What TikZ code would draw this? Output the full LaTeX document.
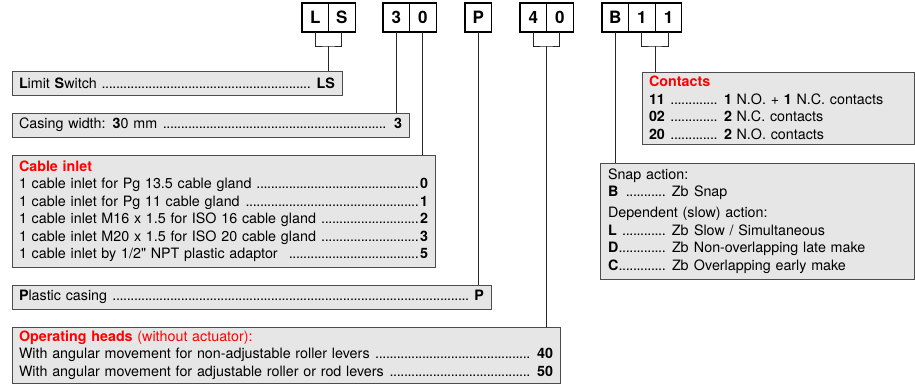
\documentclass[tikz,border=0pt]{standalone}
\usepackage{fontspec}
\setmainfont{TeX Gyre Heros}
\usetikzlibrary{positioning}
\definecolor{panelgray}{HTML}{E6E6E6}
\definecolor{headred}{HTML}{FF0000}
\newcommand{\dotlead}{\leaders\hbox to 3.6pt{\hss.\hss}\hskip 0pt plus 1filll}
\newcommand{\redhead}[1]{{\color{headred}\bfseries #1}}
\begin{document}
\begin{tikzpicture}[x=1pt, y=-1pt,
    codecell/.style={rectangle, draw, line width=1.2pt, minimum width=26.6pt, minimum height=29pt, inner sep=0pt, outer sep=0pt, font=\fontsize{17}{17}\selectfont\bfseries},
    infobox/.style={rectangle, draw=black!70, line width=1pt, fill=panelgray, anchor=north west, inner xsep=7pt, inner ysep=0pt, outer sep=0pt, align=left, font=\fontsize{14.3}{17.5}\selectfont},
    link/.style={draw=black!85, line width=0.9pt}
]
    \useasboundingbox (0,0) rectangle (915,384);

    \node[codecell, anchor=north west] (cL) at (302,3) {L};
    \node[codecell, right=0pt of cL] (cS) {S};
    \node[codecell, anchor=north west] (c3) at (383,3) {3};
    \node[codecell, right=0pt of c3] (c0) {0};
    \node[codecell, anchor=north west] (cP) at (465,3) {P};
    \node[codecell, anchor=north west] (c4) at (520,3) {4};
    \node[codecell, right=0pt of c4] (c40) {0};
    \node[codecell, anchor=north west] (cB) at (602,3) {B};
    \node[codecell, right=0pt of cB] (c1a) {1};
    \node[codecell, right=0pt of c1a] (c1b) {1};

    \node[infobox, minimum width=330pt, minimum height=24pt, text width=316pt] (lsbox) at (12,71) {
        \textbf{L}imit \textbf{S}witch \dotlead\ \textbf{LS}
    };
    \node[infobox, minimum width=397pt, minimum height=24pt, text width=383pt] (casing) at (12,113) {
        Casing width: \textbf{3}0 mm \dotlead\ \textbf{3}
    };
    \node[infobox, minimum width=423pt, minimum height=112pt, text width=409pt] (cable) at (12,155) {
        \redhead{Cable inlet}\\
        1 cable inlet for Pg 13.5 cable gland \dotlead\textbf{0}\\
        1 cable inlet for Pg 11 cable gland \dotlead\textbf{1}\\
        1 cable inlet M16 x 1.5 for ISO 16 cable gland \dotlead\textbf{2}\\
        1 cable inlet M20 x 1.5 for ISO 20 cable gland \dotlead\textbf{3}\\
        1 cable inlet by 1/2\textquotedbl{} NPT plastic adaptor \ \dotlead\textbf{5}
    };
    \node[infobox, minimum width=479pt, minimum height=24pt, text width=465pt] (plastic) at (12,285) {
        \textbf{P}lastic casing \dotlead\ \textbf{P}
    };
    \node[infobox, minimum width=548pt, minimum height=56pt, text width=534pt] (heads) at (12,327) {
        \textcolor{headred}{\textbf{Operating heads} (without actuator):}\\
        With angular movement for non-adjustable roller levers \dotlead\ \textbf{40}\\
        With angular movement for adjustable roller or rod levers \dotlead\ \textbf{50}
    };
    \node[infobox, minimum width=272pt, minimum height=72pt, text width=258pt] (contacts) at (642,72) {
        \redhead{Contacts}\\
        \makebox[75pt][l]{\textbf{11} \dotlead\hspace{6pt}}\textbf{1} N.O. + \textbf{1} N.C. contacts\\
        \makebox[75pt][l]{\textbf{02} \dotlead\hspace{6pt}}\textbf{2} N.C. contacts\\
        \makebox[75pt][l]{\textbf{20} \dotlead\hspace{6pt}}\textbf{2} N.O. contacts
    };
    \node[infobox, inner xsep=8pt, minimum width=314pt, minimum height=116pt, text width=298pt] (snap) at (600,163) {
        Snap action:\\
        \makebox[64pt][l]{\textbf{B} \dotlead\hspace{4pt}}\makebox[22pt][l]{Zb}Snap\\[3.5pt]
        Dependent (slow) action:\\
        \makebox[64pt][l]{\textbf{L} \dotlead\hspace{4pt}}\makebox[22pt][l]{Zb}Slow / Simultaneous\\
        \makebox[64pt][l]{\textbf{D}\dotlead\hspace{4pt}}\makebox[22pt][l]{Zb}Non-overlapping late make\\
        \makebox[64pt][l]{\textbf{C}\dotlead\hspace{4pt}}\makebox[22pt][l]{Zb}Overlapping early make
    };

    \draw[link] (cL.south) |- ([yshift=-14pt]cL.south east) -| (cS.south);
    \draw[link] ([yshift=-14pt]cL.south east) -- (cL.south east |- lsbox.north);
    \draw[link] (c3.south) -- (c3.south |- casing.north);
    \draw[link] (c0.south) -- (c0.south |- cable.north);
    \draw[link] (cP.south) -- (cP.south |- plastic.north);
    \draw[link] (c4.south) |- ([yshift=-14pt]c4.south east) -| (c40.south);
    \draw[link] ([yshift=-14pt]c4.south east) -- (c4.south east |- heads.north);
    \draw[link] (cB.south) -- (cB.south |- snap.north);
    \draw[link] (c1a.south) |- ([yshift=-14pt]c1a.south east) -| (c1b.south);
    \draw[link] ([yshift=-14pt]c1a.south east) -- (c1a.south east |- contacts.north);
\end{tikzpicture}
\end{document}
